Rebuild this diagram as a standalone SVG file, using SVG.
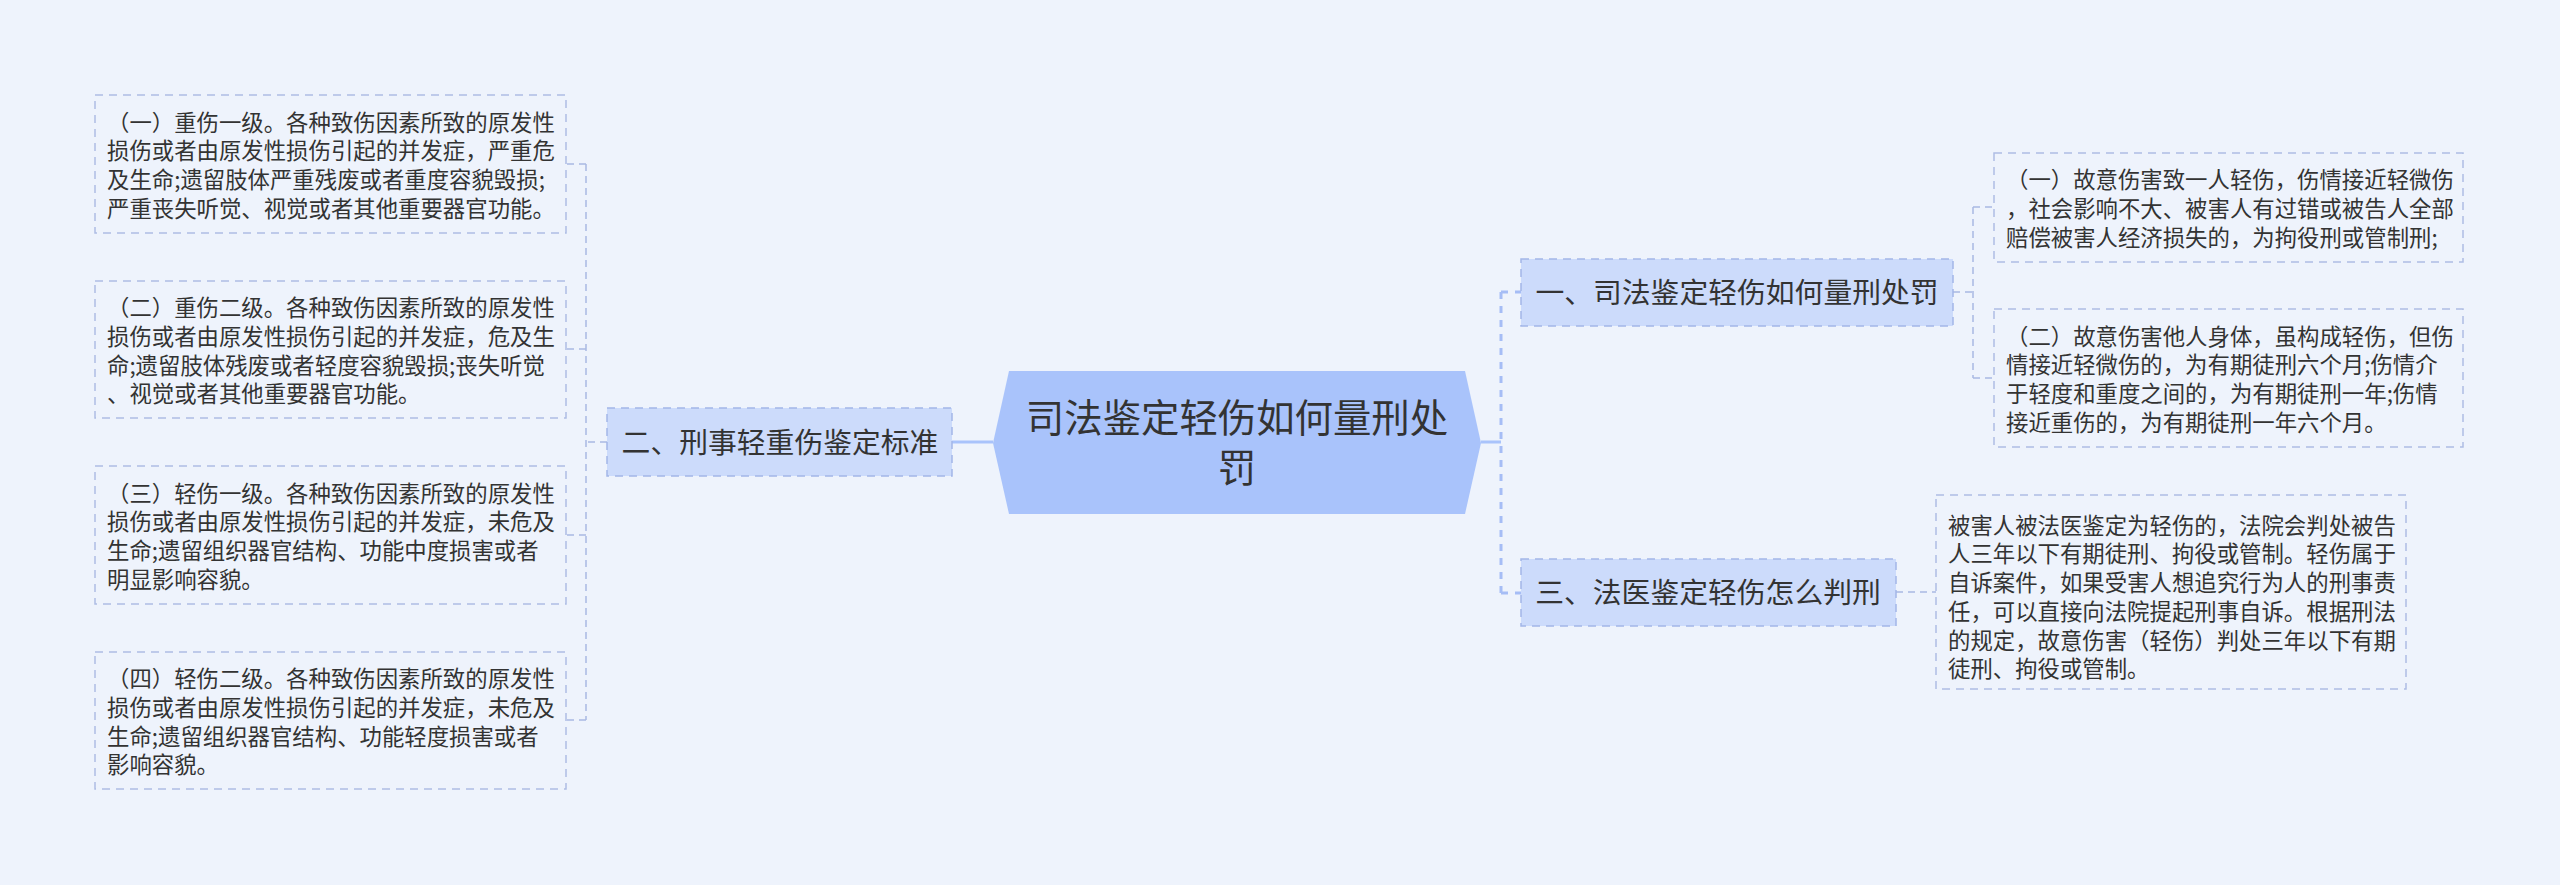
<svg xmlns="http://www.w3.org/2000/svg" width="2560" height="885" viewBox="0 0 2560 885">
<style>
text{font-family:"Noto Sans CJK SC","Noto Sans",sans-serif;fill:#333333;}
.leaf rect{fill:none;stroke:#aebde4;stroke-width:1.5;stroke-dasharray:8 6;}
.leaf text{font-size:22.4px;}
.branch rect{fill:#ccdbfb;stroke:#a3b6e8;stroke-width:1.5;stroke-dasharray:8 6;}
.branch text{font-size:28.8px;text-anchor:middle;}
.root polygon{fill:#a9c3fb;}
.root text{font-size:38.4px;text-anchor:middle;}
.thin{fill:none;stroke:#a9b9e2;stroke-width:1.5;stroke-dasharray:7 5;}
.thick{fill:none;stroke:#a6bdf5;stroke-width:3;stroke-dasharray:7 7;}
.solid{fill:none;stroke:#a9c3fb;stroke-width:3;}
</style>
<rect x="0" y="0" width="2560" height="885" fill="#eef3fc"/>
<g id="connectors">
<path class="solid" d="M952 442H993"/>
<path class="solid" d="M1481 442H1501"/>
<path class="thick" d="M1501 292V593"/>
<path class="thick" d="M1501 292H1521M1501 593H1521"/>
<path class="thin" d="M607 442H586M586 164V720M586 164H566M586 349H566M586 535H566M586 720H566"/>
<path class="thin" d="M1953 292H1973M1973 207V378M1973 207H1994M1973 378H1994"/>
<path class="thin" d="M1896 592H1936"/>
</g>
<g id="root" class="root">
<polygon points="1009,371 1465,371 1481,443 1465,514 1009,514 993,443"/>
<text x="1237" y="431.5">司法鉴定轻伤如何量刑处</text>
<text x="1237" y="481.5">罚</text>
</g>
<g id="branch2" class="branch">
<rect x="607" y="408" width="345" height="68"/>
<text x="780" y="453">二、刑事轻重伤鉴定标准</text>
</g>
<g id="branch1" class="branch">
<rect x="1521" y="259" width="432" height="67"/>
<text x="1737" y="303">一、司法鉴定轻伤如何量刑处罚</text>
</g>
<g id="branch3" class="branch">
<rect x="1521" y="559" width="375" height="67"/>
<text x="1708" y="603">三、法医鉴定轻伤怎么判刑</text>
</g>
<g id="leafL1" class="leaf">
<rect x="95" y="95" width="471" height="138"/>
<text x="107" y="130.5">（一）重伤一级。各种致伤因素所致的原发性</text>
<text x="107" y="159.2">损伤或者由原发性损伤引起的并发症，严重危</text>
<text x="107" y="188">及生命;遗留肢体严重残废或者重度容貌毁损;</text>
<text x="107" y="216.7">严重丧失听觉、视觉或者其他重要器官功能。</text>
</g>
<g id="leafL2" class="leaf">
<rect x="95" y="281" width="471" height="137"/>
<text x="107" y="316">（二）重伤二级。各种致伤因素所致的原发性</text>
<text x="107" y="344.7">损伤或者由原发性损伤引起的并发症，危及生</text>
<text x="107" y="373.5">命;遗留肢体残废或者轻度容貌毁损;丧失听觉</text>
<text x="107" y="402.2">、视觉或者其他重要器官功能。</text>
</g>
<g id="leafL3" class="leaf">
<rect x="95" y="466" width="471" height="138"/>
<text x="107" y="501.5">（三）轻伤一级。各种致伤因素所致的原发性</text>
<text x="107" y="530.2">损伤或者由原发性损伤引起的并发症，未危及</text>
<text x="107" y="559">生命;遗留组织器官结构、功能中度损害或者</text>
<text x="107" y="587.7">明显影响容貌。</text>
</g>
<g id="leafL4" class="leaf">
<rect x="95" y="652" width="471" height="137"/>
<text x="107" y="687">（四）轻伤二级。各种致伤因素所致的原发性</text>
<text x="107" y="715.7">损伤或者由原发性损伤引起的并发症，未危及</text>
<text x="107" y="744.5">生命;遗留组织器官结构、功能轻度损害或者</text>
<text x="107" y="773.2">影响容貌。</text>
</g>
<g id="leafR1" class="leaf">
<rect x="1994" y="153" width="469" height="109"/>
<text x="2006" y="188">（一）故意伤害致一人轻伤，伤情接近轻微伤</text>
<text x="2006" y="216.7">，社会影响不大、被害人有过错或被告人全部</text>
<text x="2006" y="245.5">赔偿被害人经济损失的，为拘役刑或管制刑;</text>
</g>
<g id="leafR2" class="leaf">
<rect x="1994" y="309" width="469" height="138"/>
<text x="2006" y="344.5">（二）故意伤害他人身体，虽构成轻伤，但伤</text>
<text x="2006" y="373.2">情接近轻微伤的，为有期徒刑六个月;伤情介</text>
<text x="2006" y="402">于轻度和重度之间的，为有期徒刑一年;伤情</text>
<text x="2006" y="430.7">接近重伤的，为有期徒刑一年六个月。</text>
</g>
<g id="leafR3" class="leaf">
<rect x="1936" y="495" width="470" height="194"/>
<text x="1948" y="533.5">被害人被法医鉴定为轻伤的，法院会判处被告</text>
<text x="1948" y="562.2">人三年以下有期徒刑、拘役或管制。轻伤属于</text>
<text x="1948" y="591">自诉案件，如果受害人想追究行为人的刑事责</text>
<text x="1948" y="619.7">任，可以直接向法院提起刑事自诉。根据刑法</text>
<text x="1948" y="648.5">的规定，故意伤害（轻伤）判处三年以下有期</text>
<text x="1948" y="677.2">徒刑、拘役或管制。</text>
</g>
</svg>
